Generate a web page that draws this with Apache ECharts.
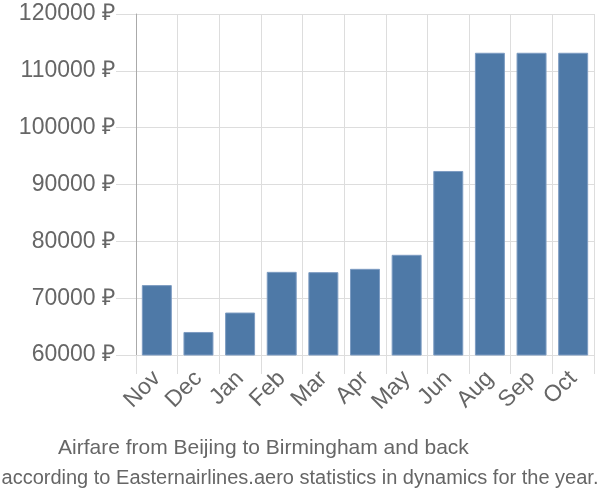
<!DOCTYPE html>
<html><head><meta charset="utf-8">
<script src="https://cdn.jsdelivr.net/npm/echarts@6/dist/echarts.min.js"></script>
<style>html,body{margin:0;padding:0;background:#fff}#c{width:600px;height:500px}</style>
</head><body><div id="c"></div>
<script>
const categories = ["Nov","Dec","Jan","Feb","Mar","Apr","May","Jun","Aug","Sep","Oct"];
const prices = [72300, 64050, 67470, 74630, 74580, 75160, 77630, 92380, 113180, 113180, 113180];
const yMin = 60000, yMax = 120000, yStep = 10000;
const titleText = "Airfare from Beijing to Birmingham and back";
const subText = "according to Easternairlines.aero statistics in dynamics for the year.";

const chart = echarts.init(document.getElementById('c'), null, {renderer:'canvas'});
const font = "'Liberation Sans', Arial, sans-serif";
chart.setOption({
  animation: false,
  backgroundColor: '#fff',
  title: [
    {text: titleText, left: 53, top: 433, textStyle:{fontFamily: font, fontSize: 21, fontWeight:'normal', color:'#666'}},
    {text: subText, left: 'center', top: 463, textStyle:{fontFamily: font, fontSize: 20, fontWeight:'normal', color:'#666'}}
  ],
  grid: {left: 136, right: 6, top: 14, bottom: 145, containLabel: false},
  xAxis: {
    type: 'category', data: categories, boundaryGap: true,
    axisLine: {show: true, lineStyle: {color: '#ddd', width: 1}},
    axisTick: {show: true, length: 19, alignWithLabel: false, lineStyle: {color: '#ddd'}},
    splitLine: {show: true, lineStyle: {color: '#ddd', width: 1}},
    axisLabel: {rotate: 45, margin: 20, fontFamily: font, fontSize: 23, color: '#666', interval: 0}
  },
  yAxis: {
    type: 'value', min: yMin, max: yMax, interval: yStep,
    axisLine: {show: true, lineStyle: {color: '#aaa', width: 1}},
    axisTick: {show: true, length: 20, lineStyle: {color: '#ddd'}},
    splitLine: {show: true, lineStyle: {color: '#ddd', width: 1}},
    axisLabel: {margin: 21, fontFamily: font, fontSize: 23, color: '#666', formatter: v => v + ' ₽'}
  },
  series: [{
    type: 'bar', data: prices, barCategoryGap: '28%',
    itemStyle: {color: '#4e79a7', borderColor: '#7d9cc2', borderWidth: 1}
  }]
});
</script></body></html>
